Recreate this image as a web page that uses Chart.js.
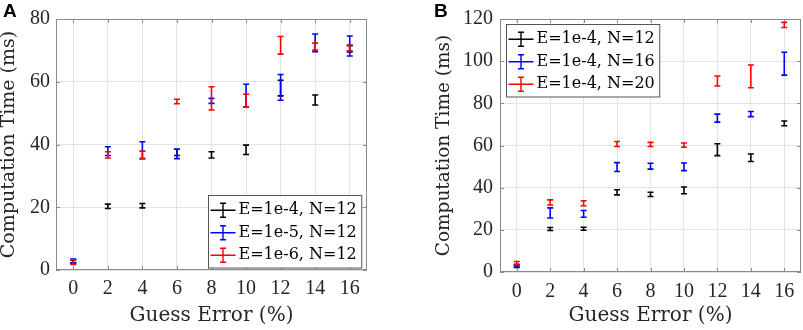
<!DOCTYPE html>
<html><head><meta charset="utf-8">
<script src="https://cdn.jsdelivr.net/npm/chart.js@4"></script>
<style>
body{margin:0;background:#fff;width:803px;height:330px;overflow:hidden;position:relative}
#ca{position:absolute;left:0;top:0}
#cb{position:absolute;left:400px;top:0}
.lab{position:absolute;font:bold 19px "Liberation Sans",Arial,sans-serif;top:0;color:#000}
</style></head><body>
<canvas id="ca" width="400" height="330"></canvas>
<canvas id="cb" width="403" height="330"></canvas>
<div class="lab" style="left:3px">A</div>
<div class="lab" style="left:434px">B</div>
<script>
// ---- data ----
const guessError = [0, 2, 4, 6, 8, 10, 12, 14, 16];
const xTicks = [0, 2, 4, 6, 8, 10, 12, 14, 16];
const yTicksA = [0, 20, 40, 60, 80];
const yTicksB = [0, 20, 40, 60, 80, 100, 120];

const labelsA = ["E=1e-4, N=12", "E=1e-5, N=12", "E=1e-6, N=12"];
const labelsB = ["E=1e-4, N=12", "E=1e-4, N=16", "E=1e-4, N=20"];

const a_e4_mean = [2.7, 20.3, 20.5, 37.5, 36.7, 38.3, 58.0, 54.2, 70.5];
const a_e4_err  = [0.5, 0.7, 0.7, 1.0, 1.0, 1.5, 2.5, 1.6, 1.0];
const a_e5_mean = [2.9, 37.9, 38.2, 37.0, 53.9, 55.6, 58.2, 72.4, 71.4];
const a_e5_err  = [0.6, 1.4, 2.7, 1.5, 0.8, 3.6, 4.1, 2.8, 3.2];
const a_e6_mean = [2.5, 36.7, 36.7, 53.7, 54.7, 54.0, 71.6, 71.2, 70.8];
const a_e6_err  = [0.7, 1.0, 1.2, 0.7, 3.7, 2.0, 2.8, 1.1, 0.9];

const b_n12_mean = [2.7, 20.4, 20.5, 37.8, 36.8, 38.7, 58.0, 54.2, 70.5];
const b_n12_err  = [0.5, 0.7, 0.7, 1.2, 1.0, 1.6, 2.8, 1.8, 1.1];
const b_n16_mean = [3.0, 28.0, 27.6, 49.8, 50.2, 49.9, 73.0, 74.9, 98.8];
const b_n16_err  = [0.6, 2.4, 1.6, 2.1, 1.4, 1.8, 1.9, 1.2, 5.4];
const b_n20_mean = [4.2, 33.0, 32.6, 60.7, 60.5, 60.2, 90.6, 92.8, 117.2];
const b_n20_err  = [0.8, 1.2, 1.2, 1.2, 1.0, 1.0, 2.4, 5.4, 1.2];

const colors = ["#000000", "#0000ff", "#ff0000"];

// ---- rendering ----
const SERIF = '"DejaVu Serif", serif';
const TICKFONT = '"Liberation Serif", serif';
const TXT = '#262626';

const frame = {
  id: 'frame',
  beforeDatasetsDraw(chart) {
    const {ctx, chartArea: a, scales: {x, y}} = chart;
    ctx.save();
    ctx.strokeStyle = '#8a8a8a';
    ctx.lineWidth = 1;
    ctx.strokeRect(a.left + 0.5, a.top + 0.5, a.right - a.left - 1, a.bottom - a.top - 1);
    const tl = 4;
    ctx.beginPath();
    x.ticks.forEach(t => {
      const px = Math.round(x.getPixelForValue(t.value)) + 0.5;
      ctx.moveTo(px, a.bottom); ctx.lineTo(px, a.bottom - tl);
      ctx.moveTo(px, a.top); ctx.lineTo(px, a.top + tl);
    });
    y.ticks.forEach(t => {
      const py = Math.round(y.getPixelForValue(t.value)) + 0.5;
      ctx.moveTo(a.left, py); ctx.lineTo(a.left + tl, py);
      ctx.moveTo(a.right, py); ctx.lineTo(a.right - tl, py);
    });
    ctx.stroke();
    ctx.restore();
  }
};

const errorBars = {
  id: 'errorBars',
  afterDatasetsDraw(chart) {
    const {ctx, scales: {x, y}, chartArea: a} = chart;
    ctx.save();
    ctx.beginPath(); ctx.rect(a.left, a.top, a.right - a.left, a.bottom - a.top); ctx.clip();
    chart.data.datasets.forEach(ds => {
      ctx.strokeStyle = ds.borderColor;
      ctx.lineWidth = 1.6;
      ds.data.forEach((p, i) => {
        const e = ds.errors[i];
        const px = x.getPixelForValue(p.x);
        const yt = y.getPixelForValue(p.y + e);
        const yb = y.getPixelForValue(p.y - e);
        const c = 3;
        ctx.beginPath();
        ctx.moveTo(px, yt); ctx.lineTo(px, yb);
        ctx.moveTo(px - c, yt); ctx.lineTo(px + c, yt);
        ctx.moveTo(px - c, yb); ctx.lineTo(px + c, yb);
        ctx.stroke();
      });
    });
    ctx.restore();
  }
};

const boxLegend = {
  id: 'boxLegend',
  afterDraw(chart, args, opts) {
    const {ctx, chartArea: a} = chart;
    ctx.save();
    ctx.font = '16px ' + SERIF;
    const tw = Math.max(...chart.data.datasets.map(d => ctx.measureText(d.label).width));
    const w = 31 + tw + 4, rowH = 22.5, h = rowH * 3 + 5;
    let lx, ly;
    if (opts.corner === 'br') { lx = a.right - 6 - w; ly = a.bottom - 3 - h; }
    else { lx = a.left + 6; ly = a.top + 5; }
    lx = Math.round(lx) + 0.5; ly = Math.round(ly) + 0.5;
    ctx.fillStyle = '#fff';
    ctx.fillRect(lx, ly, w, h);
    ctx.strokeStyle = '#555';
    ctx.lineWidth = 1;
    ctx.strokeRect(lx, ly, w, h);
    chart.data.datasets.forEach((d, i) => {
      const cy = ly + 2.5 + rowH * (i + 0.5) + 1;
      const sx = lx + 2, cx = sx + 12.5;
      ctx.strokeStyle = d.borderColor; ctx.lineWidth = 1.4;
      ctx.beginPath();
      ctx.moveTo(sx, cy); ctx.lineTo(sx + 25, cy);
      ctx.moveTo(cx, cy - 7); ctx.lineTo(cx, cy + 7);
      ctx.moveTo(cx - 3, cy - 7); ctx.lineTo(cx + 3, cy - 7);
      ctx.moveTo(cx - 3, cy + 7); ctx.lineTo(cx + 3, cy + 7);
      ctx.stroke();
      ctx.fillStyle = '#000';
      ctx.textBaseline = 'middle';
      ctx.textAlign = 'left';
      ctx.fillText(d.label, sx + 28, cy);
    });
    ctx.restore();
  }
};

function ds(label, mean, err, color) {
  return {
    label, borderColor: color, backgroundColor: color,
    data: guessError.map((g, i) => ({x: g, y: mean[i]})),
    errors: err, pointRadius: 0, showLine: false
  };
}

function makeChart(id, datasets, yTicks, yMax, cfg) {
  return new Chart(document.getElementById(id), {
    type: 'scatter',
    data: {datasets},
    options: {
      responsive: false, animation: false,
      layout: {padding: {left: cfg.padL, right: cfg.padR, top: 19, bottom: 0}},
      plugins: {legend: {display: false}, tooltip: {enabled: false}, boxLegend: {corner: cfg.corner}},
      scales: {
        x: {
          type: 'linear', min: -1, max: 17,
          afterBuildTicks: s => { s.ticks = xTicks.map(v => ({value: v})); },
          afterFit: s => { s.height = cfg.xH; },
          grid: {color: '#e3e3e3', drawTicks: false},
          border: {display: false},
          ticks: {color: TXT, font: {family: TICKFONT, size: 20}, padding: cfg.xTickPad, maxRotation: 0, autoSkip: false},
          title: {display: true, text: 'Guess Error (%)', color: TXT, font: {family: SERIF, size: 20, lineHeight: 1}, padding: {top: 0, bottom: cfg.xTitlePad}}
        },
        y: {
          type: 'linear', min: 0, max: yMax,
          afterBuildTicks: s => { s.ticks = yTicks.map(v => ({value: v})); },
          afterFit: s => { s.width = cfg.yW; },
          grid: {color: '#e3e3e3', drawTicks: false},
          border: {display: false},
          ticks: {color: TXT, font: {family: TICKFONT, size: 20}, padding: cfg.yTickPad},
          title: {display: true, text: 'Computation Time (ms)', color: TXT, font: {family: SERIF, size: cfg.yTitleSize, lineHeight: 1}, padding: {top: 0, bottom: 0}}
        }
      }
    },
    plugins: [frame, errorBars, boxLegend]
  });
}

makeChart('ca', [
  ds(labelsA[0], a_e4_mean, a_e4_err, colors[0]),
  ds(labelsA[1], a_e5_mean, a_e5_err, colors[1]),
  ds(labelsA[2], a_e6_mean, a_e6_err, colors[2])
], yTicksA, 80, {padL: 0, padR: 33, yW: 56, xH: 60, xTickPad: 7, xTitlePad: 4, yTickPad: 6, yTitleSize: 19, corner: 'br'});

makeChart('cb', [
  ds(labelsB[0], b_n12_mean, b_n12_err, colors[0]),
  ds(labelsB[1], b_n16_mean, b_n16_err, colors[1]),
  ds(labelsB[2], b_n20_mean, b_n20_err, colors[2])
], yTicksB, 120, {padL: 35, padR: 2, yW: 65, xH: 58, xTickPad: 8, xTitlePad: 4, yTickPad: 7, yTitleSize: 18.5, corner: 'tl'});
</script>
</body></html>
